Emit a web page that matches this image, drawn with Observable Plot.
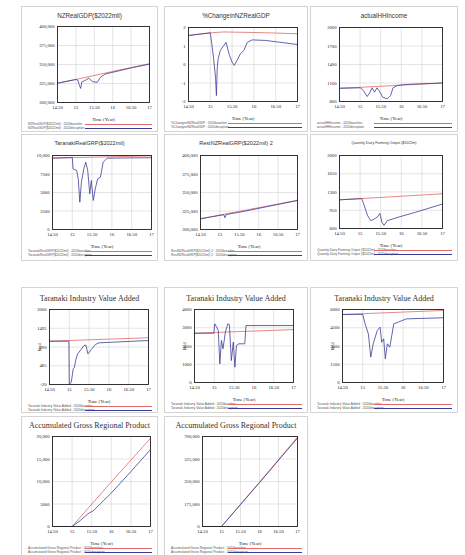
<!DOCTYPE html>
<html><head><meta charset="utf-8">
<script src="https://cdn.jsdelivr.net/npm/d3@7"></script>
<script src="https://cdn.jsdelivr.net/npm/@observablehq/plot@0.6"></script>
<style>
body{margin:0;background:#fff;}
#root{position:relative;width:465px;height:555px;overflow:hidden;}
.box{position:absolute;border:1px solid #d4d4d4;box-sizing:border-box;}
.title{position:absolute;white-space:nowrap;transform:translate(-50%,-50%);color:#333;}
.leg{position:absolute;font:3.2px "Liberation Sans";color:#555;white-space:nowrap;transform:translateY(-50%);}
.legline{position:absolute;height:0;border-top:0.8px solid;}
#root svg{position:absolute;overflow:visible;}
</style></head><body><div id="root"></div>
<script>
// ---------- data ----------
const xTicks = [14.5, 15, 15.5, 16, 16.5, 17];

const nzGdpTicks = [300000, 325000, 350000, 375000, 400000];
const nzGdpBase = [[14.5,325400],[15,330300],[15.75,338200],[16.5,346000],[17,351000]];
const nzGdpScen = [[14.5,325400],[15,330300],[15.05,329500],[15.1,322000],[15.13,318500],[15.16,327000],[15.25,329000],[15.35,332000],[15.45,327500],[15.58,326500],[15.67,333500],[15.8,337500],[15.95,339200],[16.5,345500],[17,350500]];

const pctTicks = [-2, -1, 0, 1, 2];
const pctBase = [[14.5,1.57],[15,1.71],[15.3,1.76],[16,1.73],[16.5,1.7],[17,1.66]];
const pctScen = [[14.5,1.57],[15,1.71],[15.03,1.2],[15.08,0.22],[15.12,-0.69],[15.14,-1.68],[15.16,-0.15],[15.18,0.31],[15.23,0.76],[15.31,1.03],[15.36,1.2],[15.44,0.49],[15.5,0.13],[15.55,-0.05],[15.62,0.25],[15.69,0.58],[15.77,0.76],[15.85,1.2],[15.96,1.33],[16.27,1.3],[17,1.08]];

const incomeTicks = [800, 1100, 1400, 1700, 2000];
const incomeBase = [[14.5,1015],[15,1030],[16,1065],[17,1100]];
const incomeScen = [[14.5,1015],[15.01,1022],[15.09,967],[15.17,881],[15.23,935],[15.29,1022],[15.35,951],[15.41,1022],[15.47,967],[15.55,870],[15.66,843],[15.74,897],[15.8,1022],[15.9,1059],[16.1,1076],[17,1100]];

const tarGrpTicks = [0, 2500, 5000, 7500, 10000];
const tarGrpBase = [[14.5,9650],[17,9950]];
const tarGrpScen = [[14.5,9650],[15,9720],[15.02,8200],[15.11,7970],[15.15,6850],[15.19,3690],[15.23,6400],[15.29,8200],[15.34,9100],[15.39,7970],[15.44,4820],[15.48,6620],[15.53,3920],[15.58,5500],[15.64,6850],[15.71,7070],[15.78,9100],[15.88,9640],[17,9700]];

const restGrpTicks = [300000, 325000, 350000, 375000, 400000];
const restGrpBase = [[14.5,314500],[17,339500]];
const restGrpScen = [[14.5,314500],[15.1,320000],[15.13,316000],[15.16,320300],[15.5,323300],[17,339200]];

const dairyTicks = [600, 950, 1300, 1650, 2000];
const dairyBase = [[14.5,1150],[17,1265]];
const dairyScen = [[14.5,1150],[15.04,1173],[15.1,1040],[15.18,850],[15.26,750],[15.34,780],[15.42,820],[15.48,890],[15.53,720],[15.58,660],[15.66,750],[15.94,820],[16.34,910],[17,1070]];

const tivaATicks = [-20, 485, 990, 1495, 2000];
const tivaABase = [[14.5,1146],[17,1240]];
const tivaAScen = [[14.5,1146],[14.99,1146],[15,-20],[15.05,42],[15.1,403],[15.13,446],[15.16,626],[15.21,806],[15.28,896],[15.37,1030],[15.42,1040],[15.47,806],[15.55,914],[15.66,1057],[15.75,1102],[17,1165]];

const tivaBTicks = [0, 1000, 2000, 3000, 4000];
const tivaBBase = [[14.5,2700],[17,2900]];
const tivaBScen = [[14.5,2700],[14.99,2700],[15.01,3215],[15.06,3030],[15.1,2850],[15.14,1020],[15.18,2300],[15.22,1850],[15.28,2760],[15.34,3215],[15.38,3180],[15.43,1200],[15.48,2210],[15.52,840],[15.56,2030],[15.62,2120],[15.77,2120],[15.8,3120],[17,3120]];

const tivaCTicks = [0, 1500, 3000, 4500, 6000];
const tivaCBase = [[14.5,5590],[17,5920]];
const tivaCScen = [[14.5,5590],[15,5600],[15.06,4820],[15.14,4000],[15.2,2080],[15.26,3180],[15.36,4270],[15.43,4550],[15.47,3310],[15.52,3590],[15.56,1950],[15.61,3180],[15.67,2900],[15.77,4820],[15.88,4960],[16.08,5230],[17,5320]];

const agrpATicks = [0, 5000, 10000, 15000, 20000];
const agrpABase = [[14.5,0],[15,0],[16,9900],[17,19600]];
const agrpAScen = [[14.5,0],[15,0],[15.21,1330],[15.4,2810],[15.55,3560],[15.72,5040],[15.98,7260],[16.5,12200],[17,17100]];

const agrpBTicks = [0, 175000, 350000, 525000, 700000];
const agrpBBase = [[14.5,0],[15,0],[16,345000],[17,695000]];
const agrpBScen = [[14.5,0],[15,0],[16,341000],[17,688000]];

const runNames = ["2020baseline", "2020disruption"];
const xLabel = "Time (Year)";
const yUnit = "$mil";

// ---------- layout ----------
const RED = "#e06a66", BLUE = "#3c3c98";
const sans = "Liberation Sans", serif = "Liberation Serif";
const panels = [
  {title:"NZRealGDP($2022mil)", tf:[sans,6.3], base:nzGdpBase, scen:nzGdpScen, ticks:nzGdpTicks, box:[21,6,158,132], area:[57,26,149,102], ty:15},
  {title:"%ChangeinNZRealGDP", tf:[sans,6.3], base:pctBase, scen:pctScen, ticks:pctTicks, box:[164,6,308,132], area:[188,27,297,101], ty:15},
  {title:"actualHHIncome", tf:[sans,6.3], base:incomeBase, scen:incomeScen, ticks:incomeTicks, box:[310,6,458,132], area:[339,27,442,101], ty:15},
  {title:"TaranakiRealGRP($2022mil)", tf:[sans,5.5], base:tarGrpBase, scen:tarGrpScen, ticks:tarGrpTicks, box:[21,134,158,261], area:[52,155,151,229], ty:143},
  {title:"RestNZRealGRP($2022mil) 2", tf:[sans,5.6], base:restGrpBase, scen:restGrpScen, ticks:restGrpTicks, box:[164,134,308,261], area:[200,155,297,229], ty:143},
  {title:"Quantity Dairy Farming Output ($2022m)", tf:[sans,3.6], base:dairyBase, scen:dairyScen, ticks:dairyTicks, box:[310,134,458,261], area:[339,155,442,228], ty:143},
  {title:"Taranaki Industry Value Added", tf:[serif,8], base:tivaABase, scen:tivaAScen, ticks:tivaATicks, box:[21,287,158,413], area:[49,309,148,384], ty:298, yl:true},
  {title:"Taranaki Industry Value Added", tf:[serif,8], base:tivaBBase, scen:tivaBScen, ticks:tivaBTicks, box:[164,287,308,413], area:[194,309,293,382], ty:298, yl:true},
  {title:"Taranaki Industry Value Added", tf:[serif,8], base:tivaCBase, scen:tivaCScen, ticks:tivaCTicks, box:[310,287,458,413], area:[342,309,443,382], ty:298, yl:true},
  {title:"Accumulated Gross Regional Product", tf:[serif,8], base:agrpABase, scen:agrpAScen, ticks:agrpATicks, box:[21,416,158,557], area:[52,436,150,526], ty:425},
  {title:"Accumulated Gross Regional Product", tf:[serif,8], base:agrpBBase, scen:agrpBScen, ticks:agrpBTicks, box:[164,416,308,557], area:[202,436,297,526], ty:425}
];

const fmtX = d => Number.isInteger(d) ? String(d) : d.toFixed(2);
const fmtY = d => Math.abs(d) >= 10000 ? d3.format(",")(d) : String(d);

const root = document.getElementById("root");
function div(cls, css, text) {
  const e = document.createElement("div");
  e.className = cls;
  Object.assign(e.style, css);
  if (text != null) e.textContent = text;
  root.appendChild(e);
  return e;
}

for (const p of panels) {
  const [bx0, by0, bx1, by1] = p.box;
  const [ax0, ay0, ax1, ay1] = p.area;
  div("box", {left: bx0+"px", top: by0+"px", width: (bx1-bx0)+"px", height: (by1-by0)+"px"});
  div("title", {left: ((bx0+bx1)/2)+"px", top: p.ty+"px", font: `${p.tf[1]}px "${p.tf[0]}"`}, p.title);

  const ml = 32, mr = 6, mt = 6, mb = 22;
  const chart = Plot.plot({
    width: ax1-ax0+ml+mr, height: ay1-ay0+mt+mb,
    marginLeft: ml, marginRight: mr, marginTop: mt, marginBottom: mb,
    style: {fontFamily: serif, fontSize: "4.7px", background: "transparent", color: "#222"},
    x: {domain: [14.5, 17], ticks: xTicks, tickFormat: fmtX, tickSize: 0, tickPadding: 3,
        label: xLabel, labelAnchor: "center", labelArrow: "none", labelOffset: 18},
    y: {domain: [p.ticks[0], p.ticks[p.ticks.length-1]], ticks: p.ticks, tickFormat: fmtY, tickSize: 0, tickPadding: 3,
        label: p.yl ? yUnit : null, labelAnchor: "center", labelArrow: "none", labelOffset: 12},
    marks: [
      Plot.gridX(xTicks, {stroke: "#c8c8c8", strokeOpacity: 1, strokeWidth: 0.5}),
      Plot.gridY(p.ticks, {stroke: "#c8c8c8", strokeOpacity: 1, strokeWidth: 0.5}),
      Plot.line(p.base, {x: d => d[0], y: d => d[1], stroke: RED, strokeWidth: 0.8}),
      Plot.line(p.scen, {x: d => d[0], y: d => d[1], stroke: BLUE, strokeWidth: 0.8}),
      Plot.frame({stroke: "#222", strokeWidth: 0.9})
    ]
  });
  chart.style.left = (ax0-ml)+"px";
  chart.style.top = (ay0-mt)+"px";
  root.appendChild(chart);

  const varName = p.title.replace(/ /g, " ");
  [[runNames[0], RED, 22], [runNames[1], BLUE, 26]].forEach(([run, col, dy]) => {
    div("leg", {left: (bx0+7)+"px", top: (ay1+dy)+"px"}, `${varName} : ${run}`);
    div("legline", {left: (bx0+64)+"px", top: (ay1+dy)+"px", width: (bx1-bx0-70)+"px", borderTopColor: col});
  });
}
</script></body></html>
